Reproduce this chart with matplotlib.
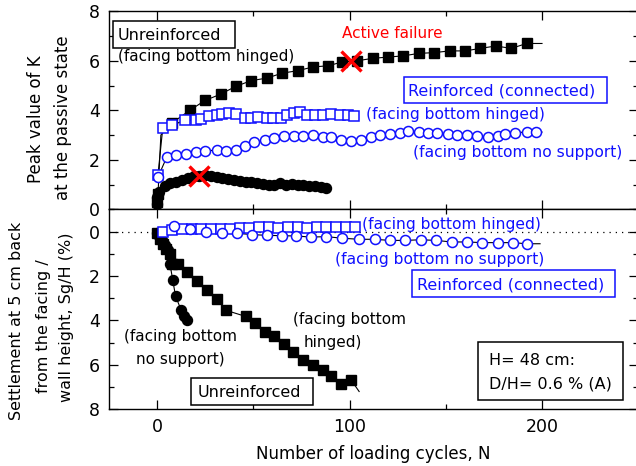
import matplotlib
matplotlib.use("Agg")
import matplotlib.pyplot as plt
from matplotlib.patches import Rectangle
from matplotlib.ticker import MultipleLocator

plt.rcParams['font.family'] = ['DejaVu Sans']

W, H = 636, 466

# ---------------- data ----------------
# Top panel: peak K at passive state
ur_hinged_top_x = [0, 0.5, 2, 8, 17, 25, 33, 41, 49, 57, 65, 73, 81, 89, 96, 104, 112, 120,
                   128, 136, 144, 152, 160, 168, 176, 184, 192, 200]
ur_hinged_top_y = [0.3, 0.6, 3.0, 3.5, 4.0, 4.4, 4.65, 4.97, 5.2, 5.3, 5.5, 5.6, 5.75, 5.8, 5.95,
                   6.0, 6.1, 6.15, 6.2, 6.3, 6.33, 6.4, 6.4, 6.5, 6.6, 6.5, 6.7, 6.7]

ur_nosup_top_x = [0, 0, 1, 4, 7, 10, 13, 16, 19, 22, 25, 28, 31, 34, 37, 40, 43, 46, 49, 52, 55,
                  58, 61, 64, 67, 70, 73, 76, 79, 82, 85, 88]
ur_nosup_top_y = [0.2, 0.5, 0.7, 0.95, 1.05, 1.12, 1.2, 1.28, 1.33, 1.36, 1.38, 1.35, 1.3, 1.27,
                  1.22, 1.2, 1.15, 1.12, 1.1, 1.05, 1.02, 1.0, 0.98, 1.05, 1.0, 1.02, 0.98, 1.0,
                  0.95, 0.93, 0.9, 0.88]

re_hinged_top_x = [0.5, 3, 8, 14.5, 20, 23, 27, 31, 34, 37.5, 41, 45.5, 49, 52.5, 57, 60.5, 64.5,
                   67.5, 71, 74.5, 78, 82, 86, 90.5, 95, 99, 102.5]
re_hinged_top_y = [1.4, 3.3, 3.4, 3.6, 3.6, 3.65, 3.75, 3.8, 3.85, 3.9, 3.85, 3.7, 3.7, 3.72, 3.7,
                   3.68, 3.7, 3.8, 3.9, 3.92, 3.8, 3.8, 3.8, 3.85, 3.8, 3.8, 3.75]

re_nosup_top_x = [0.5, 5, 10, 15, 20, 25, 31, 36, 41, 45.5, 50.5, 56, 61, 66, 71, 76, 81, 86, 90.5,
                  95.5, 101, 106, 111, 116, 121, 126, 130.5, 136, 141, 145.5, 151, 156, 161, 166,
                  172, 177, 181, 186, 192, 197, 200]
re_nosup_top_y = [1.3, 2.1, 2.2, 2.25, 2.3, 2.35, 2.4, 2.35, 2.4, 2.55, 2.7, 2.8, 2.9, 2.95, 2.95,
                  2.95, 3.0, 2.92, 2.92, 2.8, 2.75, 2.8, 2.92, 3.0, 3.05, 3.1, 3.15, 3.12, 3.1,
                  3.08, 3.05, 3.0, 3.0, 2.95, 2.92, 2.97, 3.05, 3.1, 3.12, 3.12, 3.12]

failure_x = [22, 101]
failure_y = [1.35, 6.0]

# Bottom panel: settlement Sg/H (%)
ur_hinged_bot_x = [0, 1.5, 3.1, 4.8, 6.7, 7.6, 11, 15.7, 20.9, 25.9, 31, 36, 46, 51, 56, 60.6,
                   65.8, 70.6, 75.8, 81, 86, 90.6, 95.8, 101, 105]
ur_hinged_bot_y = [0.05, 0.33, 0.55, 0.8, 1.0, 1.45, 1.45, 1.83, 2.23, 2.65, 3.05, 3.55, 3.82,
                   4.13, 4.5, 4.72, 5.04, 5.43, 5.8, 6.0, 6.25, 6.5, 6.85, 6.7, 7.2]

ur_nosup_bot_x = [0, 1, 2.5, 4, 5.7, 6.7, 8.2, 9.6, 12.6, 13.8, 15.4]
ur_nosup_bot_y = [0.05, 0.2, 0.4, 0.6, 0.85, 1.45, 2.2, 2.9, 3.55, 3.8, 3.97]

re_hinged_bot_x = [0, 3, 8, 13, 18, 23, 28, 33, 38, 43, 48, 53, 58, 63, 68, 73, 78, 83, 88, 93,
                   98, 103]
re_hinged_bot_y = [0, 0.0, -0.05, -0.1, -0.1, -0.12, -0.12, -0.1, -0.12, -0.15, -0.15, -0.2,
                   -0.2, -0.18, -0.2, -0.2, -0.18, -0.2, -0.2, -0.2, -0.2, -0.2]

re_nosup_bot_x = [0, 9, 17, 25.5, 33.5, 41.5, 49.5, 57, 65, 72, 80, 88, 96, 105, 113, 121, 129,
                  137, 145, 153, 161, 169, 177, 185, 192, 199]
re_nosup_bot_y = [0, -0.27, -0.1, 0.02, 0.05, 0.08, 0.14, 0.17, 0.19, 0.2, 0.25, 0.23, 0.3, 0.35,
                  0.35, 0.4, 0.4, 0.37, 0.4, 0.47, 0.47, 0.5, 0.5, 0.5, 0.55, 0.55]

x_ticks = [0, 100, 200]
y_ticks = [0, 2, 4, 6, 8]

# ---------------- figure ----------------
fig = plt.figure(figsize=(W / 100, H / 100), dpi=100)

def fx(px):
    return px / W

def fy(py):
    return 1 - py / H

left_px, right_px = 108.9, 638.25
ax1 = fig.add_axes([fx(left_px), fy(209.3), (right_px - left_px) / W, 198 / H])
ax2 = fig.add_axes([fx(left_px), fy(409.3), (right_px - left_px) / W, 200 / H])

BLUE = '#1010ff'
lw_line = 0.8
ms = 7.2

# top panel
ax1.plot(ur_hinged_top_x, ur_hinged_top_y, '-', color='black', lw=lw_line, zorder=2)
ax1.plot(ur_hinged_top_x, ur_hinged_top_y, 's', color='black', ms=ms, lw=0,
         markevery=[i for i in range(len(ur_hinged_top_x) - 1) if i != 2], zorder=3)
ax1.plot(re_hinged_top_x, re_hinged_top_y, '-', color='black', lw=lw_line, zorder=2)
ax1.plot(re_hinged_top_x, re_hinged_top_y, 's', mec=BLUE, mfc='white', mew=1.1, ms=ms, lw=0, zorder=3)
ax1.plot(re_nosup_top_x, re_nosup_top_y, '-', color='black', lw=lw_line, zorder=2)
ax1.plot(re_nosup_top_x[:-1], re_nosup_top_y[:-1], 'o', mec=BLUE, mfc='white', mew=1.1, ms=ms,
         lw=0, zorder=3)
ax1.plot(ur_nosup_top_x, ur_nosup_top_y, '-', color='black', lw=lw_line, zorder=2)
ax1.plot(ur_nosup_top_x, ur_nosup_top_y, 'o', color='black', ms=ms, lw=0, zorder=3)
ax1.plot(failure_x, failure_y, 'x', color='red', ms=14, mew=2.4, lw=0, zorder=5)

# bottom panel
ax2.axhline(0, color='black', lw=0.9, ls=(0, (1, 4)), zorder=1)
ax2.plot(ur_hinged_bot_x, ur_hinged_bot_y, '-', color='black', lw=lw_line, zorder=2)
ax2.plot(ur_hinged_bot_x[:-1], ur_hinged_bot_y[:-1], 's', color='black', ms=ms, lw=0, zorder=3)
ax2.plot(ur_nosup_bot_x, ur_nosup_bot_y, '-', color='black', lw=lw_line, zorder=2)
ax2.plot(ur_nosup_bot_x, ur_nosup_bot_y, 'o', color='black', ms=ms, lw=0, zorder=3)
ax2.plot(re_hinged_bot_x, re_hinged_bot_y, '-', color='black', lw=lw_line, zorder=2)
ax2.plot(re_hinged_bot_x[1:], re_hinged_bot_y[1:], 's', mec=BLUE, mfc='white', mew=1.1, ms=ms,
         lw=0, zorder=3)
ax2.plot(re_nosup_bot_x, re_nosup_bot_y, '-', color='black', lw=lw_line, zorder=2)
ax2.plot(re_nosup_bot_x[1:-1], re_nosup_bot_y[1:-1], 'o', mec=BLUE, mfc='white', mew=1.1, ms=ms,
         lw=0, zorder=4)

for ax in (ax1, ax2):
    ax.set_xlim(-25, 250)
    ax.set_xticks(x_ticks)
    ax.xaxis.set_minor_locator(MultipleLocator(50))
    ax.set_yticks(y_ticks)
    ax.yaxis.set_minor_locator(MultipleLocator(1))
    ax.tick_params(which='both', direction='in', top=True, right=True, width=0.9)
    ax.tick_params(which='major', length=6.5, labelsize=12.5, pad=6.5)
    ax.tick_params(which='minor', length=3.5)
    for s in ax.spines.values():
        s.set_linewidth(1.0)

ax1.set_ylim(0, 8)
ax1.tick_params(labelbottom=False)
ax2.set_ylim(8, -1)
ax2.set_yticks(y_ticks)

# ---------------- text ----------------
def T(px, py, s, size=11, color='black', ha='left'):
    base = py + 0.365 * size * 100 / 72
    fig.text(fx(px), fy(base), s, fontsize=size, color=color, ha=ha, va='baseline', zorder=6)

def box(x0, y0, x1, y1, color='black'):
    fig.patches.append(Rectangle((fx(x0), fy(y1)), (x1 - x0) / W, (y1 - y0) / H,
                                 transform=fig.transFigure, fc='white', ec=color, lw=1.1,
                                 zorder=5))

# top panel texts
box(113, 21, 235, 48)
T(118, 34.5, 'Unreinforced', 11.5)
T(118, 55, '(facing bottom hinged)', 11)
T(342, 32, 'Active failure', 11, 'red')
box(404, 77, 607, 103, BLUE)
T(408, 90, 'Reinforced (connected)', 11.5, BLUE)
T(366, 113, '(facing bottom hinged)', 11.2, BLUE)
T(413, 151, '(facing bottom no support)', 11.2, BLUE)

# bottom panel texts
T(362, 223, '(facing bottom hinged)', 11.2, BLUE)
T(335, 258, '(facing bottom no support)', 11.2, BLUE)
box(412, 270, 615, 297, BLUE)
T(417, 283.5, 'Reinforced (connected)', 11.5, BLUE)
T(293, 318, '(facing bottom', 11)
T(304, 341, 'hinged)', 11)
T(180, 335, '(facing bottom', 11, ha='center')
T(180, 358, 'no support)', 11, ha='center')
box(191, 378, 313, 405)
T(198, 391.5, 'Unreinforced', 11.5)
box(478, 342, 623, 400)
T(489, 359, 'H= 48 cm:', 11.5)
T(489, 383, 'D/H= 0.6 % (A)', 11.5)

# axis labels
fig.text(fx(373.5), fy(459), 'Number of loading cycles, N', fontsize=12, ha='center',
         va='baseline')
fig.text(fx(36), fy(119), 'Peak value of K', fontsize=12, rotation=90, ha='center', va='center')
fig.text(fx(63), fy(118), 'at the passive state', fontsize=12, rotation=90, ha='center',
         va='center')
fig.text(fx(17), fy(321), 'Settlement at 5 cm back', fontsize=11.5, rotation=90, ha='center',
         va='center')
fig.text(fx(44), fy(326), 'from the facing /', fontsize=11.5, rotation=90, ha='center',
         va='center')
fig.text(fx(66), fy(317), 'wall height, Sg/H (%)', fontsize=11.5, rotation=90, ha='center',
         va='center')

fig.savefig('out.png', dpi=100)
